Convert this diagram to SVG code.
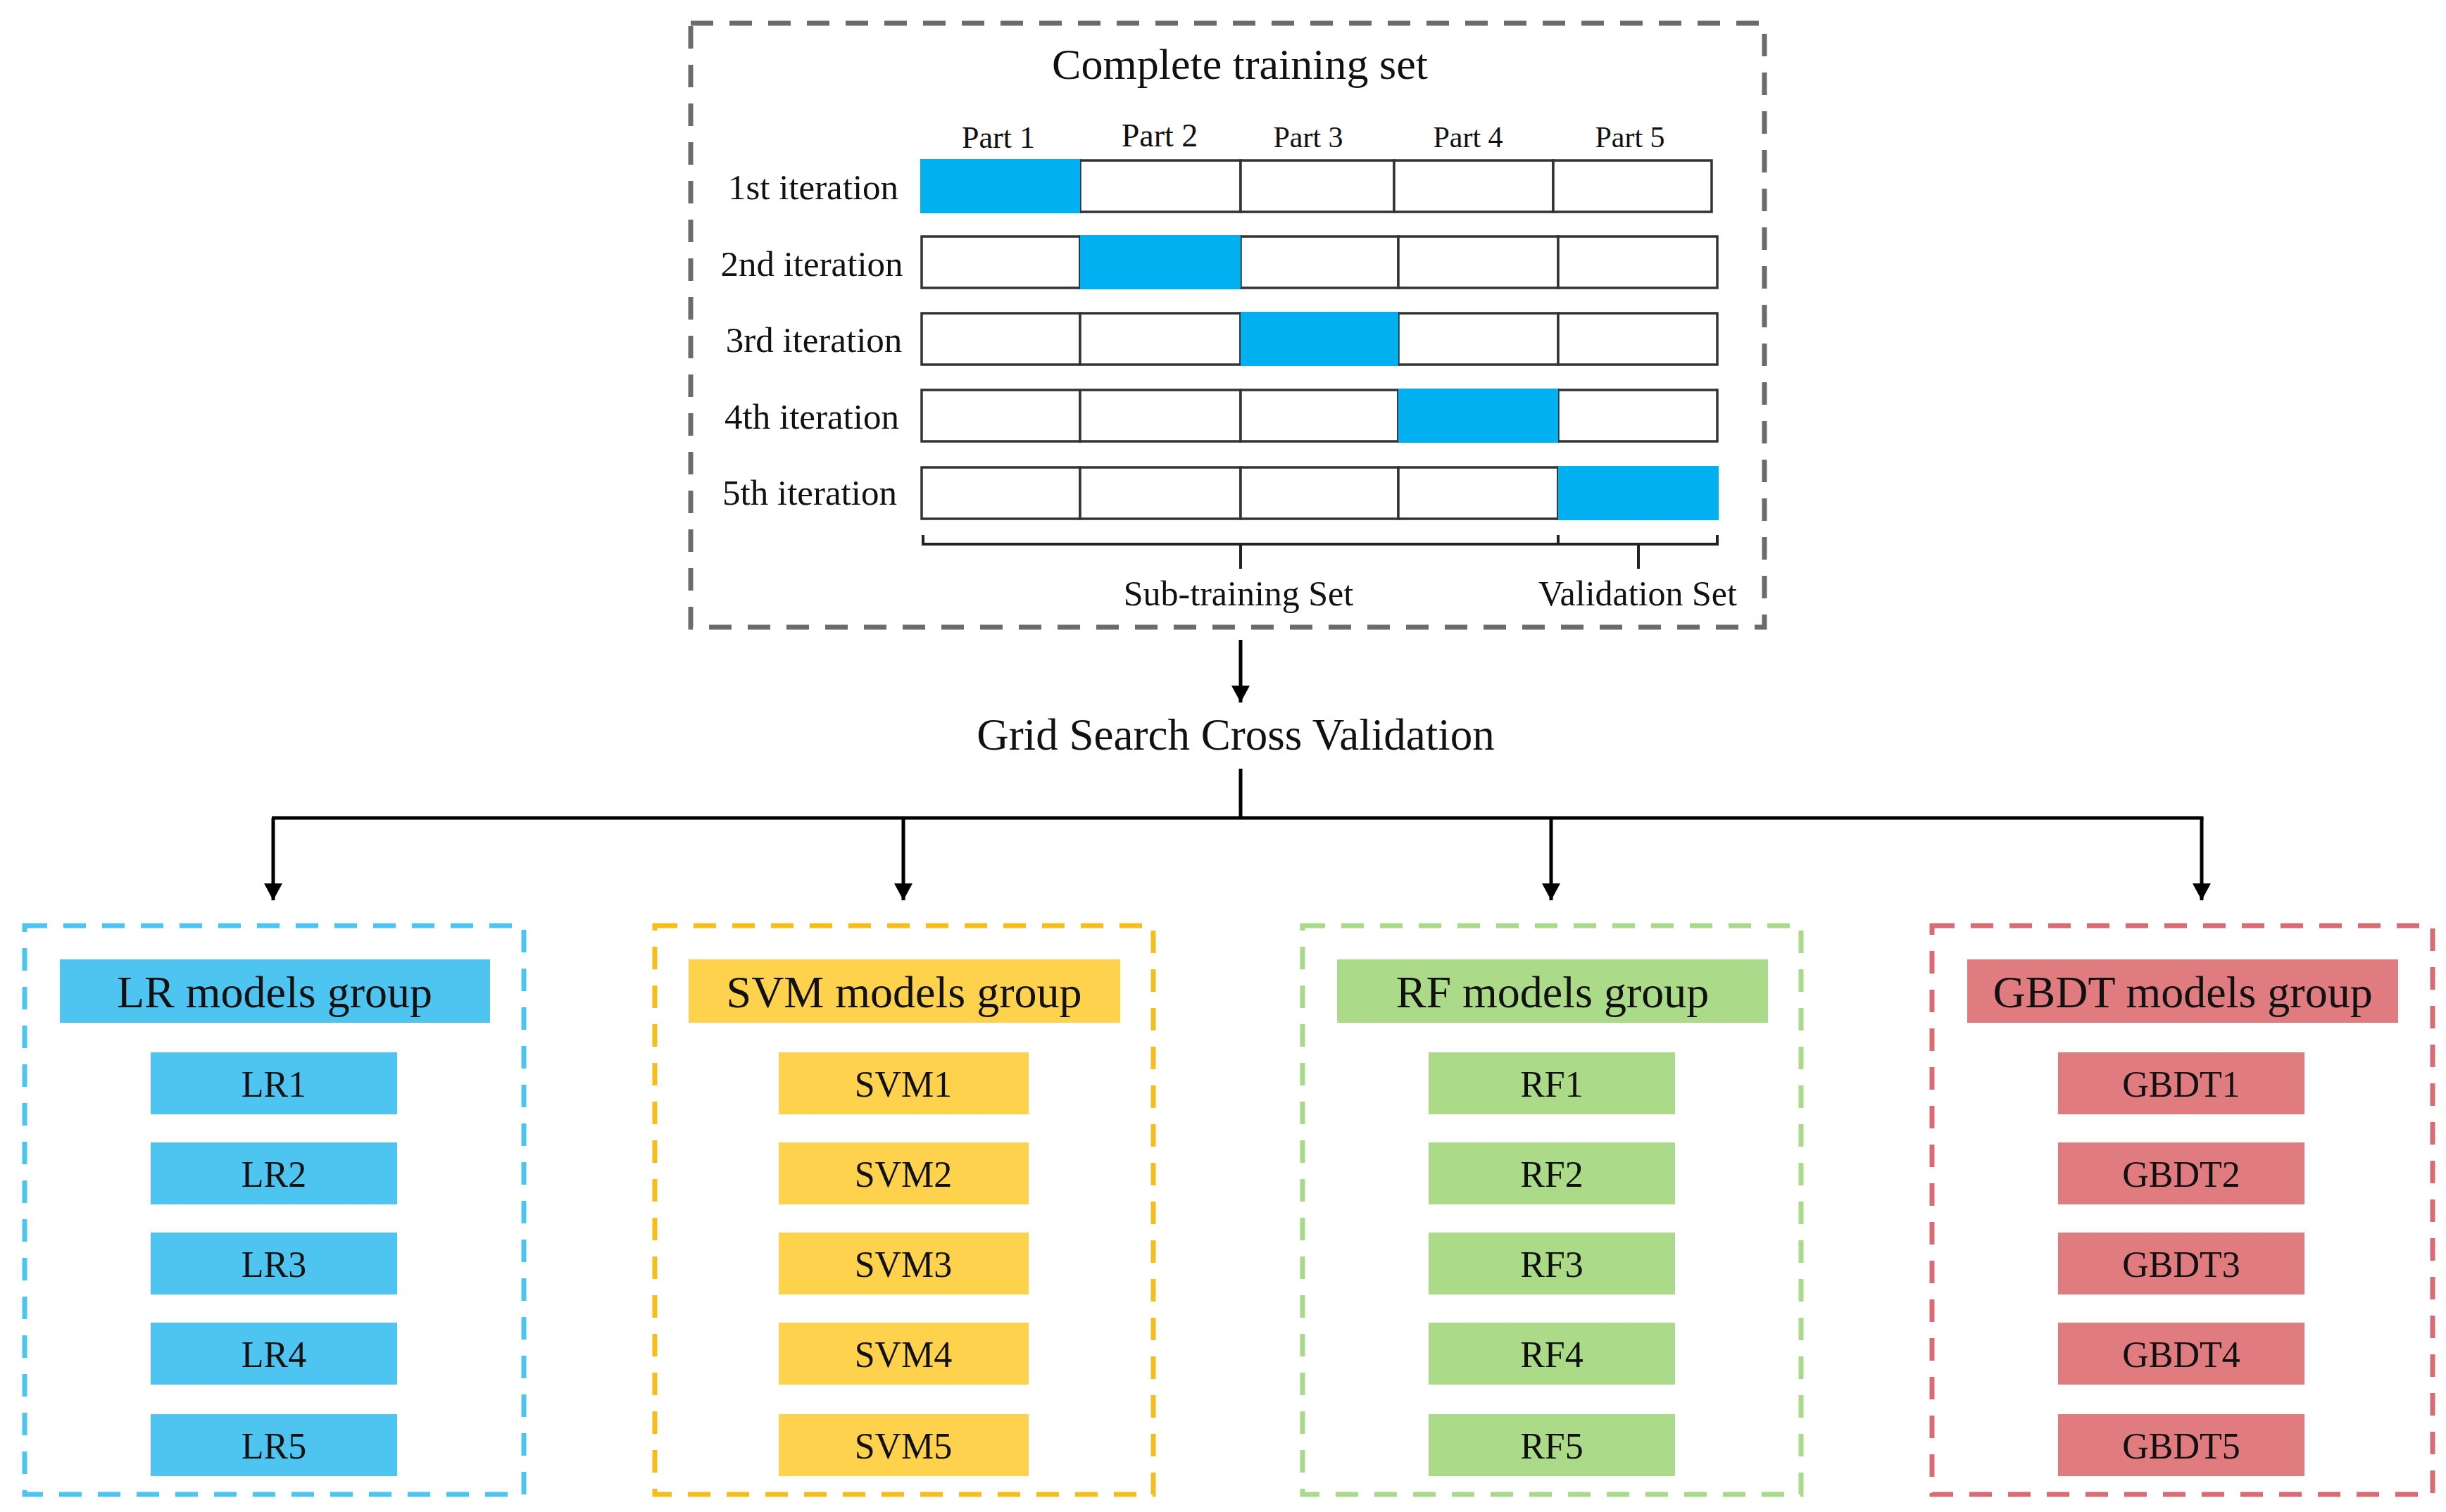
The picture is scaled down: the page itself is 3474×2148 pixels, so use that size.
<svg xmlns="http://www.w3.org/2000/svg" width="3474" height="2148" viewBox="0 0 3474 2148">
<style>
text{font-family:"Liberation Serif","Times New Roman",serif;fill:#111;text-anchor:middle}
.cell{fill:#fff;stroke:#333;stroke-width:3.5}
.sel{fill:#00B0F0}
.conn{stroke:#000;stroke-width:5;fill:none}
.br{stroke:#222;stroke-width:4;fill:none}
.dash{fill:none;stroke-width:7;stroke-dasharray:32 23}
.it{font-size:51px}
.pt{font-size:42px}
.hd{font-size:64px}
.lb{font-size:52px}
.lr{fill:#4EC5F1}.svm{fill:#FFD24D}.rf{fill:#ABDB88}.gb{fill:#E07B80}
</style>
<defs>
<marker id="ah" markerUnits="userSpaceOnUse" markerWidth="28" markerHeight="26" refX="24" refY="13" orient="auto">
<path d="M0,0 L24,13 L0,26 Z" fill="#000"/>
</marker>
</defs>
<rect width="3474" height="2148" fill="#fff"/>

<g id="training-set">
<rect x="981" y="33" width="1525" height="858" class="dash" stroke="#6b6b6b"/>
<text x="1761" y="112" font-size="62">Complete training set</text>
<text class="pt" x="1418" y="210" style="font-size:44px">Part 1</text>
<text class="pt" x="1647" y="208" style="font-size:46px">Part 2</text>
<text class="pt" x="1858" y="209">Part 3</text>
<text class="pt" x="2085" y="209">Part 4</text>
<text class="pt" x="2315" y="209">Part 5</text>

<text class="it" x="1155" y="283">1st iteration</text>
<text class="it" x="1153" y="392">2nd iteration</text>
<text class="it" x="1156" y="500">3rd iteration</text>
<text class="it" x="1153" y="609">4th iteration</text>
<text class="it" x="1150" y="717">5th iteration</text>

<g id="row1">
<rect class="cell" x="1309" y="228" width="225" height="73"/>
<rect class="cell" x="1534" y="228" width="228" height="73"/>
<rect class="cell" x="1762" y="228" width="218" height="73"/>
<rect class="cell" x="1980" y="228" width="226" height="73"/>
<rect class="cell" x="2206" y="228" width="225" height="73"/>
<rect class="sel" x="1307" y="226" width="227" height="77"/>
</g>
<g id="row2">
<rect class="cell" x="1309" y="336" width="225" height="73"/>
<rect class="cell" x="1534" y="336" width="228" height="73"/>
<rect class="cell" x="1762" y="336" width="224" height="73"/>
<rect class="cell" x="1986" y="336" width="227" height="73"/>
<rect class="cell" x="2213" y="336" width="226" height="73"/>
<rect class="sel" x="1534" y="334" width="228" height="77"/>
</g>
<g id="row3">
<rect class="cell" x="1309" y="445" width="225" height="73"/>
<rect class="cell" x="1534" y="445" width="228" height="73"/>
<rect class="cell" x="1762" y="445" width="224" height="73"/>
<rect class="cell" x="1986" y="445" width="227" height="73"/>
<rect class="cell" x="2213" y="445" width="226" height="73"/>
<rect class="sel" x="1762" y="443" width="224" height="77"/>
</g>
<g id="row4">
<rect class="cell" x="1309" y="554" width="225" height="73"/>
<rect class="cell" x="1534" y="554" width="228" height="73"/>
<rect class="cell" x="1762" y="554" width="224" height="73"/>
<rect class="cell" x="1986" y="554" width="227" height="73"/>
<rect class="cell" x="2213" y="554" width="226" height="73"/>
<rect class="sel" x="1986" y="552" width="227" height="77"/>
</g>
<g id="row5">
<rect class="cell" x="1309" y="664" width="225" height="73"/>
<rect class="cell" x="1534" y="664" width="228" height="73"/>
<rect class="cell" x="1762" y="664" width="224" height="73"/>
<rect class="cell" x="1986" y="664" width="227" height="73"/>
<rect class="cell" x="2213" y="664" width="226" height="73"/>
<rect class="sel" x="2213" y="662" width="228" height="77"/>
</g>

<path class="br" d="M1311,760 V773 H2439 V760 M2213,760 V773 M1762,773 V808 M2327,773 V808"/>
<text x="1759" y="860" font-size="50">Sub-training Set</text>
<text x="2326" y="860" font-size="50">Validation Set</text>
</g>

<g id="grid-search">
<text x="1755" y="1065" font-size="63">Grid Search Cross Validation</text>
</g>

<g id="connectors">
<line class="conn" x1="1762" y1="909" x2="1762" y2="998" marker-end="url(#ah)"/>
<line class="conn" x1="1762" y1="1092" x2="1762" y2="1162"/>
<line class="conn" x1="386" y1="1162" x2="3129.5" y2="1162"/>
<line class="conn" x1="388" y1="1162" x2="388" y2="1279" marker-end="url(#ah)"/>
<line class="conn" x1="1283" y1="1162" x2="1283" y2="1279" marker-end="url(#ah)"/>
<line class="conn" x1="2203" y1="1162" x2="2203" y2="1279" marker-end="url(#ah)"/>
<line class="conn" x1="3127" y1="1162" x2="3127" y2="1279" marker-end="url(#ah)"/>
</g>

<g id="lr-group">
<rect x="35" y="1315" width="709" height="808" class="dash" stroke="#4EC5F1"/>
<rect class="lr" x="85" y="1363" width="611" height="90"/>
<text class="hd" x="390" y="1431">LR models group</text>
<rect class="lr" x="214" y="1495" width="350" height="88"/><text class="lb" x="389" y="1558">LR1</text>
<rect class="lr" x="214" y="1623" width="350" height="88"/><text class="lb" x="389" y="1686">LR2</text>
<rect class="lr" x="214" y="1751" width="350" height="88"/><text class="lb" x="389" y="1814">LR3</text>
<rect class="lr" x="214" y="1879" width="350" height="88"/><text class="lb" x="389" y="1942">LR4</text>
<rect class="lr" x="214" y="2009" width="350" height="88"/><text class="lb" x="389" y="2072">LR5</text>
</g>

<g id="svm-group">
<rect x="930" y="1315" width="708" height="808" class="dash" stroke="#F5BE1E"/>
<rect class="svm" x="978" y="1363" width="613" height="90"/>
<text class="hd" x="1284" y="1431">SVM models group</text>
<rect class="svm" x="1106" y="1495" width="355" height="88"/><text class="lb" x="1283" y="1558">SVM1</text>
<rect class="svm" x="1106" y="1623" width="355" height="88"/><text class="lb" x="1283" y="1686">SVM2</text>
<rect class="svm" x="1106" y="1751" width="355" height="88"/><text class="lb" x="1283" y="1814">SVM3</text>
<rect class="svm" x="1106" y="1879" width="355" height="88"/><text class="lb" x="1283" y="1942">SVM4</text>
<rect class="svm" x="1106" y="2009" width="355" height="88"/><text class="lb" x="1283" y="2072">SVM5</text>
</g>

<g id="rf-group">
<rect x="1850" y="1315" width="708" height="808" class="dash" stroke="#A9D98B"/>
<rect class="rf" x="1899" y="1363" width="612" height="90"/>
<text class="hd" x="2205" y="1431">RF models group</text>
<rect class="rf" x="2029" y="1495" width="350" height="88"/><text class="lb" x="2204" y="1558">RF1</text>
<rect class="rf" x="2029" y="1623" width="350" height="88"/><text class="lb" x="2204" y="1686">RF2</text>
<rect class="rf" x="2029" y="1751" width="350" height="88"/><text class="lb" x="2204" y="1814">RF3</text>
<rect class="rf" x="2029" y="1879" width="350" height="88"/><text class="lb" x="2204" y="1942">RF4</text>
<rect class="rf" x="2029" y="2009" width="350" height="88"/><text class="lb" x="2204" y="2072">RF5</text>
</g>

<g id="gbdt-group">
<rect x="2744" y="1315" width="711" height="808" class="dash" stroke="#D96B75"/>
<rect class="gb" x="2794" y="1363" width="612" height="90"/>
<text class="hd" x="3100" y="1431">GBDT models group</text>
<rect class="gb" x="2923" y="1495" width="350" height="88"/><text class="lb" x="3098" y="1558">GBDT1</text>
<rect class="gb" x="2923" y="1623" width="350" height="88"/><text class="lb" x="3098" y="1686">GBDT2</text>
<rect class="gb" x="2923" y="1751" width="350" height="88"/><text class="lb" x="3098" y="1814">GBDT3</text>
<rect class="gb" x="2923" y="1879" width="350" height="88"/><text class="lb" x="3098" y="1942">GBDT4</text>
<rect class="gb" x="2923" y="2009" width="350" height="88"/><text class="lb" x="3098" y="2072">GBDT5</text>
</g>
</svg>
